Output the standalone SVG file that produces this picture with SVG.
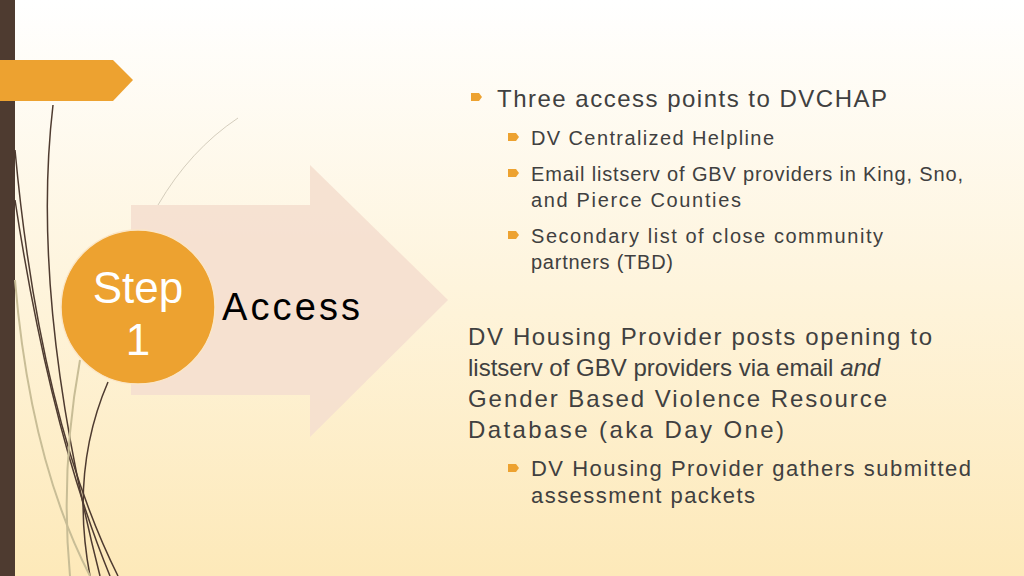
<svg xmlns="http://www.w3.org/2000/svg" width="1024" height="576" viewBox="0 0 1024 576">
<defs>
<linearGradient id="bg" x1="0" y1="0" x2="0" y2="1"><stop offset="0" stop-color="#ffffff"/><stop offset="1" stop-color="#fde9b9"/></linearGradient>
<path id="bul" d="M0,-4 L8,-4 L11,0 L8,4 L0,4 Z" fill="#eda230"/>
</defs>
<style>
.t{font-family:"Liberation Sans",Arial,sans-serif;fill:#404040}
.l{fill:none;stroke:#4e3b30;stroke-width:1.5}
.g{fill:none;stroke:#c8bd96;stroke-width:2}
</style>
<rect width="1024" height="576" fill="url(#bg)"/>
<g id="decor">
<rect x="0" y="0" width="15" height="576" fill="#4e3b30"/>
<path d="M0,60 L113,60 L133,80 L113,101 L0,101 Z" fill="#eda230"/>
<path class="l" d="M53,105 Q30,300 100,576"/>
<path class="l" d="M15,150 Q40,420 118,576"/>
<path class="l" d="M15,200 Q50,430 110,576"/>
<path class="l" d="M108,382 Q70,470 90,576"/>
<path class="g" d="M15,280 Q30,460 90,576"/>
<path class="g" d="M80,360 Q60,470 70,576"/>
<path d="M158,205 Q190,150 238,118" fill="none" stroke="#c9c2b0" stroke-width="0.8"/>
</g>
<g id="arrow"><path d="M131,205 L310,205 L310,165 L448,300 L310,437 L310,395 L131,395 Z" fill="#f5dfcf" opacity="0.9"/></g>
<g id="step">
<circle cx="138" cy="307" r="77" fill="#eda230" stroke="#fbe6c7" stroke-width="1.5"/>
<text x="138" y="303" text-anchor="middle" font-family="'Liberation Sans',sans-serif" font-size="44" fill="#fff">Step</text>
<text x="138" y="355" text-anchor="middle" font-family="'Liberation Sans',sans-serif" font-size="44" fill="#fff">1</text>
<text x="222" y="320" font-family="'Liberation Sans',sans-serif" font-size="38" fill="#000" textLength="138">Access</text>
</g>
<g id="text">
<use href="#bul" x="471" y="97"/>
<text class="t" x="497" y="107" font-size="24" textLength="390">Three access points to DVCHAP</text>
<use href="#bul" x="508" y="137"/>
<text class="t" x="531" y="145" font-size="20" textLength="243">DV Centralized Helpline</text>
<use href="#bul" x="508" y="173"/>
<text class="t" x="531" y="181" font-size="20" textLength="432">Email listserv of GBV providers in King, Sno,</text>
<text class="t" x="531" y="207" font-size="20" textLength="210">and Pierce Counties</text>
<use href="#bul" x="508" y="235"/>
<text class="t" x="531" y="243" font-size="20" textLength="352">Secondary list of close community</text>
<text class="t" x="531" y="269" font-size="20" textLength="142">partners (TBD)</text>
<text class="t" x="468" y="345" font-size="24" textLength="464">DV Housing Provider posts opening to</text>
<text class="t" x="468" y="376" font-size="24">listserv of GBV providers via email <tspan font-style="italic">and</tspan></text>
<text class="t" x="468" y="407" font-size="24" textLength="419">Gender Based Violence Resource</text>
<text class="t" x="468" y="438" font-size="24" textLength="316">Database (aka Day One)</text>
<use href="#bul" x="508" y="468"/>
<text class="t" x="531" y="476" font-size="22" textLength="440">DV Housing Provider gathers submitted</text>
<text class="t" x="531" y="503" font-size="22" textLength="224">assessment packets</text>
</g>
</svg>
